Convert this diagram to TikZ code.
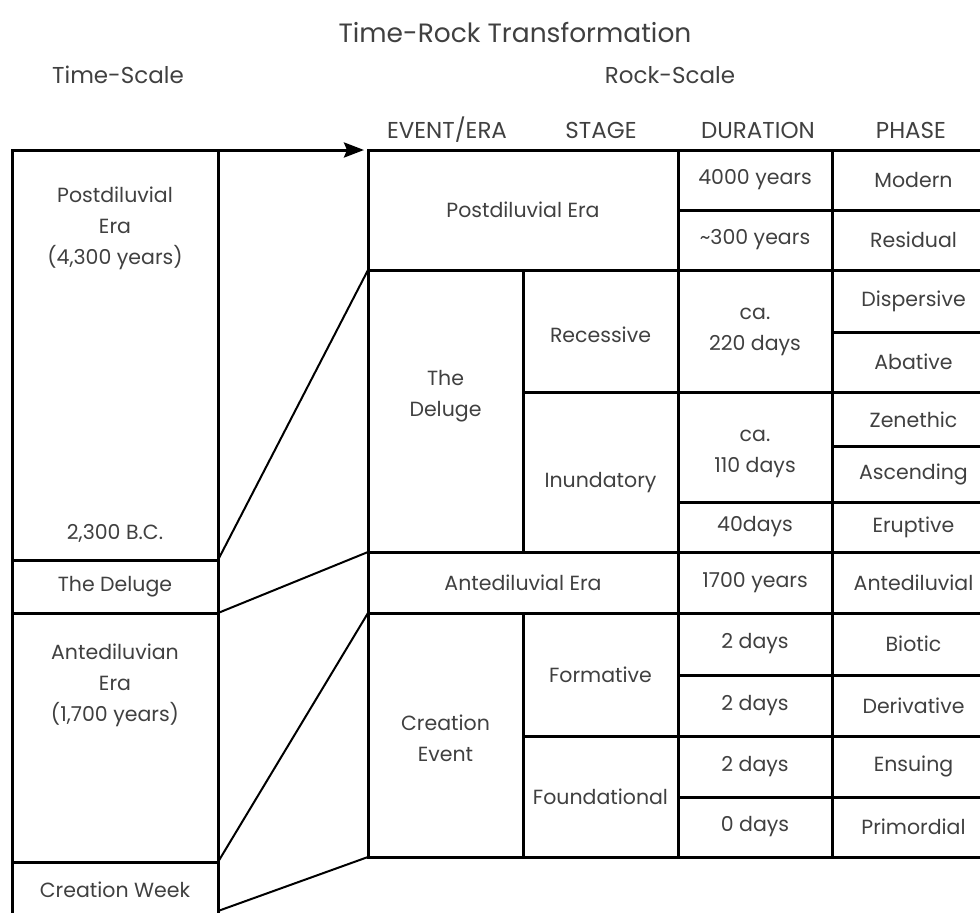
\documentclass[tikz,border=0pt]{standalone}
\usepackage{fontspec}
\setmainfont{Poppins}
\usetikzlibrary{arrows.meta}
\newcommand\cellbox[7]{%
  \node[box, minimum width={(#4)-(#2)}, minimum height={(#5)-(#3)}] (#1) at ({((#2)+(#4))/2},{((#3)+(#5))/2}) {};
  \node[txt] (#1t) at ({((#2)+(#4))/2},{((#3)+(#5))/2+(#6)}) {#7};}
\begin{document}
\begin{tikzpicture}[x=1pt,y=-1pt,
  box/.style={draw=black, line width=3pt, inner sep=0pt, outer sep=0pt},
  txt/.style={text=black!75, font=\fontsize{20.5}{31}\selectfont, align=center, inner sep=0pt},
  ttl/.style={text=black!75, font=\fontsize{26.5}{30}\selectfont, inner sep=0pt},
  sub/.style={text=black!75, font=\fontsize{23}{27}\selectfont, inner sep=0pt},
  hdr/.style={text=black!75, font=\fontsize{23}{26}\selectfont, inner sep=0pt},
  link/.style={draw=black, line width=2pt}]
\useasboundingbox (0,0) rectangle (980,913);
\clip (0,0) rectangle (980,913);
% titles
\node[ttl] (title) at (515,32) {Time-Rock Transformation};
\node[sub] (ts) at (118,75) {Time-Scale};
\node[sub] (rs) at (670,75) {Rock-Scale};
\node[hdr] (h1) at (447,130) {EVENT/ERA};
\node[hdr] (h2) at (601,130) {STAGE};
\node[hdr] (h3) at (758,130) {DURATION};
\node[hdr] (h4) at (911,130) {PHASE};
% left column
\cellbox{lpd}{12}{150}{218}{560}{-127}{Postdiluvial\\Era\\(4,300 years)}
\node[txt] (bc) at (115,533) {2,300 B.C.};
\cellbox{ldel}{12}{560}{218}{613}{0}{The Deluge}
\cellbox{lant}{12}{613}{218}{862}{-52}{Antediluvian\\Era\\(1,700 years)}
\cellbox{lcw}{12}{862}{218}{925}{-4}{Creation Week}
% right table
\cellbox{rpd}{368}{150}{678}{270}{0}{Postdiluvial Era}
\cellbox{rd1}{678}{150}{832}{210}{0}{4000 years}
\cellbox{rd2}{678}{210}{832}{270}{0}{\textasciitilde300 years}
\cellbox{rp1}{832}{150}{995}{210}{0}{Modern}
\cellbox{rp2}{832}{210}{995}{270}{0}{Residual}
\cellbox{rdel}{368}{270}{523}{552}{-15}{The\\Deluge}
\cellbox{rrec}{523}{270}{678}{392}{4}{Recessive}
\cellbox{rinu}{523}{392}{678}{552}{11}{Inundatory}
\cellbox{rd3}{678}{270}{832}{392}{1}{ca.\\220 days}
\cellbox{rd4}{678}{392}{832}{502}{7}{ca.\\110 days}
\cellbox{rd5}{678}{502}{832}{552}{0}{40days}
\cellbox{rp3}{832}{270}{995}{332}{0}{Dispersive}
\cellbox{rp4}{832}{332}{995}{392}{0}{Abative}
\cellbox{rp5}{832}{392}{995}{446}{1}{Zenethic}
\cellbox{rp6}{832}{446}{995}{502}{0}{Ascending}
\cellbox{rp7}{832}{502}{995}{552}{0}{Eruptive}
\cellbox{rant}{368}{552}{678}{613}{0}{Antediluvial Era}
\cellbox{rd6}{678}{552}{832}{613}{0}{1700 years}
\cellbox{rp8}{832}{552}{995}{613}{0}{Antediluvial}
\cellbox{rcre}{368}{613}{523}{857}{3}{Creation\\Event}
\cellbox{rfor}{523}{613}{678}{736}{0}{Formative}
\cellbox{rfou}{523}{736}{678}{857}{0}{Foundational}
\cellbox{rd7}{678}{613}{832}{675}{0}{2 days}
\cellbox{rd8}{678}{675}{832}{736}{0}{2 days}
\cellbox{rd9}{678}{736}{832}{797}{0}{2 days}
\cellbox{rd10}{678}{797}{832}{857}{0}{0 days}
\cellbox{rp9}{832}{613}{995}{675}{0}{Biotic}
\cellbox{rp10}{832}{675}{995}{736}{0}{Derivative}
\cellbox{rp11}{832}{736}{995}{797}{0}{Ensuing}
\cellbox{rp12}{832}{797}{995}{857}{0}{Primordial}
% arrow and connectors
\draw[line width=3pt, -{Stealth[length=20pt,width=15pt,inset=3pt]}] (lpd.north west) -- ([xshift=-4pt]rpd.north west);
\draw[link] (lpd.south east) -- (rdel.north west);
\draw[link] (ldel.south east) -- (rant.north west);
\draw[link] (lant.south east) -- (rcre.north west);
\coordinate (lcwend) at (218,911);
\draw[link] (lcwend) -- (rcre.south west);
\end{tikzpicture}
\end{document}
